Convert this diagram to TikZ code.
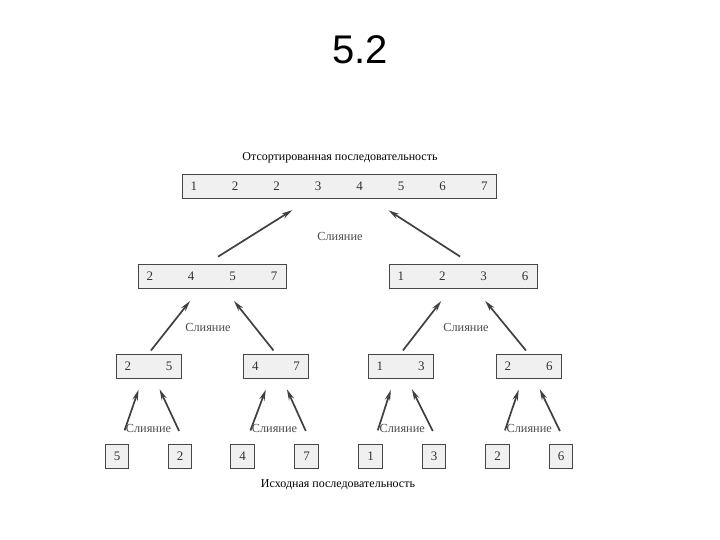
\documentclass[tikz,border=0pt]{standalone}
\usepackage{fontspec}
\setmainfont{Liberation Serif}
\newfontfamily\headfont{Liberation Sans}
\usetikzlibrary{arrows.meta,calc}
\newcommand{\gp}{\hspace{35pt}}

\begin{document}
\begin{tikzpicture}[x=1pt,y=-1pt,
    seq/.style={draw=gray!55!black,fill=gray!12,line width=0.8pt,inner xsep=8.5pt,inner ysep=0pt,
      minimum height=24pt,font=\fontsize{13}{15}\selectfont,text=black!80},
    merge/.style={draw=gray!50!black,line width=1.7pt,-{Stealth[length=11pt,width=5.5pt]}},
    lbl/.style={font=\fontsize{12}{14}\selectfont},
    mrg/.style={font=\fontsize{12.3}{14}\selectfont,text=gray!60!black}]
        \useasboundingbox (0,0) rectangle (720,540);
        \node[font=\headfont\fontsize{40}{44}\selectfont] (title) at (360,50) {5.2};
        % sorted result
        \node[lbl] (sorted) at (340,158) {Отсортированная последовательность};
        \node[seq] (all) at (339,186) {1\gp2\gp2\gp3\gp4\gp5\gp6\gp7};
        % halves
        \node[seq] (ha) at (212,276) {2\gp4\gp5\gp7};
        \node[seq] (hb) at (463,276) {1\gp2\gp3\gp6};
        % pairs
        \node[seq] (qa) at (148.5,366) {2\gp5};
        \node[seq] (qb) at (276,366) {4\gp7};
        \node[seq] (qc) at (400.5,366) {1\gp3};
        \node[seq] (qd) at (528.5,366) {2\gp6};
        % source items
        \foreach \d/\x [count=\i] in {5/117,2/180,4/242.5,7/306.5,1/370.5,3/434,2/497.5,6/561}
          \node[seq] (s\i) at (\x,456) {\d};
        \node[lbl] (source) at (338,485) {Исходная последовательность};
        % merges of single items
        \foreach \p/\l/\r in {qa/s1/s2,qb/s3/s4,qc/s5/s6,qd/s7/s8} {
          \draw[merge,shorten <=14pt,shorten >=12pt] ([xshift=3pt]\l.north) -- ([xshift=-6pt]\p.south);
          \draw[merge,shorten <=14pt,shorten >=12pt] ([xshift=5pt]\r.north) -- ([xshift=6pt]\p.south);
          \node[mrg] (m\p) at ($(\l)!0.5!(\r)+(0,-28)$) {Слияние};
        }
        % merges of pairs
        \foreach \p/\l/\r in {ha/qa/qb,hb/qc/qd} {
          \draw[merge,shorten <=4pt,shorten >=16pt] (\l.north) -- ([xshift=-12pt]\p.south);
          \draw[merge,shorten <=4pt,shorten >=16pt] (\r.north) -- ([xshift=12pt]\p.south);
        }
        \node[mrg] (mha) at (208,327) {Слияние};
        \node[mrg] (mhb) at (466,327) {Слияние};
        % last merge
        \draw[merge,shorten <=13pt,shorten >=22pt] ([xshift=-5pt]ha.north) -- ([xshift=-28pt]all.south);
        \draw[merge,shorten <=13pt,shorten >=22pt] ([xshift=8pt]hb.north) -- ([xshift=31pt]all.south);
        \node[mrg] (mall) at (340,236) {Слияние};
\end{tikzpicture}
\end{document}
